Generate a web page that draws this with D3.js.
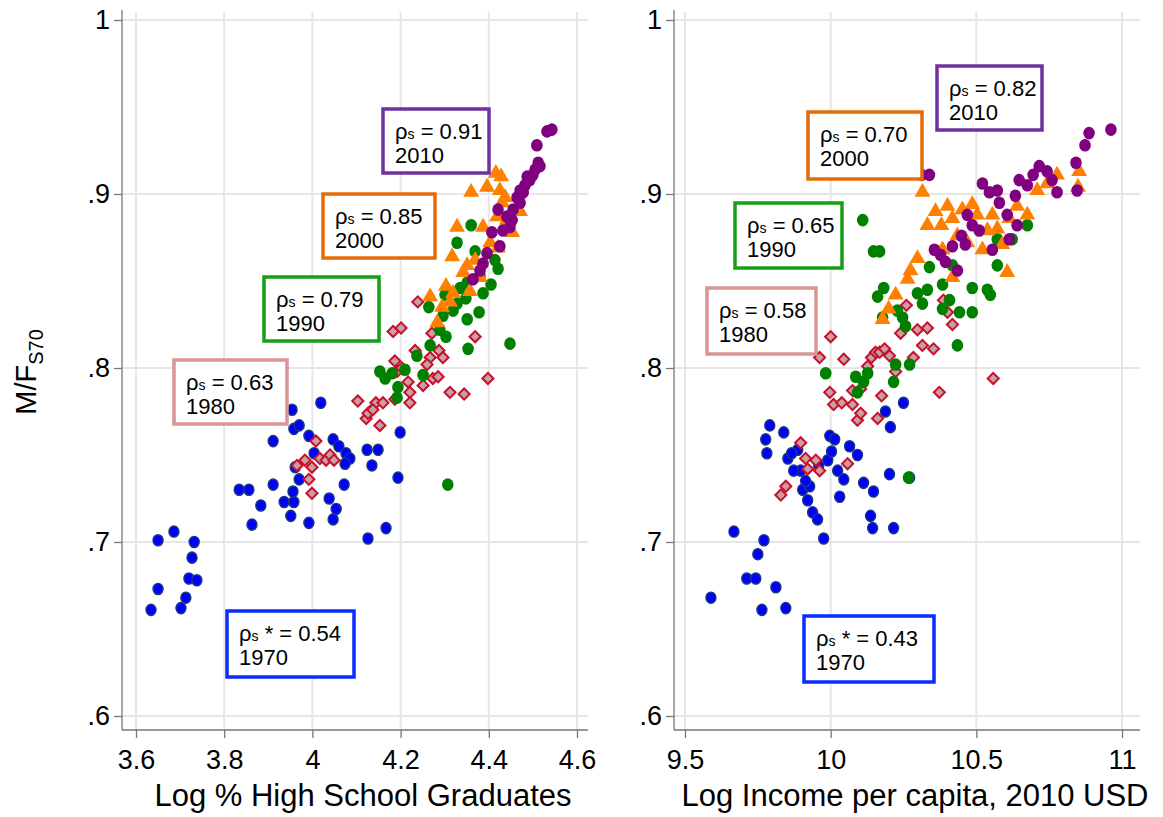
<!DOCTYPE html>
<html>
<head>
<meta charset="utf-8">
<script src="https://d3js.org/d3.v7.min.js"></script>
<style>
  body { margin: 0; background: #fff; }
  text { font-family: "Liberation Sans", Arial, sans-serif; }
  .grid line { stroke: #e6e6e6; stroke-width: 2; }
  .axis path, .axis line { stroke: #777; stroke-width: 1.3; }
  .axis text { fill: #000; font-size: 27px; }
</style>
</head>
<body>
<script>
// y ticks shared by both panels
var yTicks = [0.6, 0.7, 0.8, 0.9, 1];
var yTickLabels = ['.6', '.7', '.8', '.9', '1'];

// left panel: log % high school graduates
var eduTicks = [3.6, 3.8, 4, 4.2, 4.4, 4.6];
var edu1970 = [[3.634,.661],[3.650,.673],[3.702,.662],[3.713,.668],[3.720,.679],[3.738,.678],[3.727,.691],[3.732,.700],[3.686,.706],[3.650,.701],
  [3.834,.730],[3.856,.730],[3.863,.710],[3.883,.721],[3.911,.758],[3.911,.733],[3.936,.723],[3.951,.715],[3.958,.723],[3.956,.729],[3.970,.736],
  [3.961,.743],[3.958,.765],[3.970,.767],[3.954,.776],[3.992,.761],[4.004,.751],[3.992,.711],[4.019,.780],[4.047,.759],[4.060,.755],[4.076,.751],
  [4.085,.748],[4.072,.733],[4.038,.725],[4.054,.719],[4.047,.713],[4.124,.753],[4.126,.702],[4.117,.828],[4.135,.744],[4.149,.753],[4.167,.708],
  [4.194,.737],[4.199,.763],[4.074,.745]];
var edu1980 = [[3.965,.744],[3.992,.736],[3.999,.728],[4.008,.758],[4.017,.748],[4.031,.747],[4.040,.750],[4.049,.747],[3.983,.747],[3.999,.743],
  [4.103,.781],[4.122,.771],[4.131,.775],[4.144,.780],[4.160,.780],[4.126,.774],[4.137,.776],[4.187,.782],[4.153,.767],[4.221,.786],[4.221,.780],
  [4.192,.798],[4.203,.800],[4.217,.792],[4.251,.790],[4.273,.794],[4.285,.795],[4.312,.786],[4.344,.785],[4.398,.794],[4.233,.810],[4.287,.810],
  [4.187,.804],[4.267,.806],[4.296,.806],[4.183,.821],[4.201,.823],[4.271,.820],[4.369,.818],[4.239,.838],[4.260,.802]];
var edu1990 = [[4.360,.882],[4.328,.872],[4.369,.867],[4.414,.862],[4.421,.857],[4.335,.846],[4.351,.849],[4.387,.843],[4.405,.848],[4.301,.842],
  [4.328,.837],[4.264,.835],[4.378,.832],[4.351,.828],[4.296,.830],[4.289,.822],[4.303,.818],[4.267,.813],[4.237,.807],[4.353,.811],[4.448,.814],
  [4.251,.796],[4.210,.799],[4.153,.798],[4.181,.797],[4.194,.789],[4.192,.783],[4.165,.794],[4.307,.733],[4.380,.853],[4.348,.840],[4.319,.833]];
var edu2000 = [[4.416,.912],[4.428,.910],[4.396,.904],[4.360,.901],[4.425,.902],[4.430,.895],[4.328,.881],[4.387,.881],[4.419,.887],[4.453,.878],
  [4.317,.864],[4.351,.859],[4.369,.862],[4.380,.852],[4.342,.855],[4.303,.847],[4.319,.843],[4.357,.844],[4.294,.835],[4.312,.838],[4.283,.826],
  [4.403,.872],[4.441,.885],[4.471,.890],[4.421,.869],[4.267,.841],[4.437,.898]];
var edu2010 = [[4.532,.936],[4.543,.937],[4.509,.928],[4.512,.918],[4.516,.916],[4.500,.911],[4.493,.908],[4.487,.910],[4.482,.905],[4.471,.902],
  [4.478,.901],[4.464,.898],[4.471,.895],[4.455,.891],[4.421,.891],[4.441,.887],[4.453,.885],[4.448,.881],[4.432,.879],[4.407,.878],[4.425,.870],
  [4.396,.866],[4.387,.860],[4.380,.856],[4.364,.851],[4.505,.914]];

// right panel: log income per capita
var incTicks = [9.5, 10, 10.5, 11];
var inc1970 = [[9.589,.668],[9.668,.706],[9.712,.679],[9.743,.679],[9.750,.693],[9.771,.701],[9.764,.661],[9.812,.674],[9.846,.662],[9.791,.767],
  [9.777,.759],[9.781,.751],[9.839,.763],[9.853,.748],[9.887,.753],[9.897,.741],[9.904,.730],[9.921,.724],[9.938,.717],[9.955,.713],[9.976,.702],
  [9.990,.747],[9.997,.761],[10.014,.759],[9.959,.744],[9.928,.732],[10.024,.741],[10.031,.726],[10.045,.736],[10.065,.755],[10.113,.734],
  [10.137,.715],[10.144,.708],[10.147,.729],[10.188,.775],[10.205,.766],[10.202,.739],[10.216,.708],[10.250,.780],[10.271,.737],[9.873,.741],
  [9.914,.735],[9.866,.751],[10.003,.752],[10.092,.750]];
var inc1980 = [[9.829,.727],[9.846,.732],[9.897,.757],[9.914,.748],[9.921,.742],[9.949,.747],[9.962,.741],[9.997,.786],[10.000,.818],[10.010,.779],
  [10.038,.780],[10.045,.805],[10.058,.745],[10.075,.787],[10.092,.770],[10.103,.774],[10.103,.788],[10.127,.801],[10.140,.806],[10.154,.809],
  [10.168,.809],[10.175,.784],[10.185,.811],[10.202,.807],[10.223,.798],[10.240,.820],[10.260,.836],[10.284,.806],[10.298,.822],[10.315,.813],
  [10.332,.823],[10.353,.811],[10.373,.786],[10.387,.839],[10.401,.832],[10.418,.825],[10.558,.794],[9.962,.806],[10.075,.779],[10.161,.771]];
var inc1990 = [[9.983,.797],[10.086,.795],[10.113,.792],[10.127,.797],[10.110,.885],[10.147,.867],[10.168,.867],[10.182,.846],[10.178,.829],
  [10.229,.833],[10.247,.829],[10.257,.824],[10.216,.792],[10.223,.802],[10.271,.802],[10.267,.737],[10.298,.843],[10.315,.837],[10.332,.845],
  [10.384,.848],[10.384,.834],[10.408,.839],[10.418,.859],[10.435,.813],[10.442,.832],[10.486,.832],[10.538,.845],[10.548,.842],[10.486,.846],
  [10.572,.859],[10.623,.874],[10.675,.882],[10.572,.874],[10.092,.786],[10.161,.841],[10.339,.858]];
var inc2000 = [[10.178,.828],[10.199,.834],[10.223,.842],[10.264,.851],[10.274,.856],[10.298,.863],[10.315,.901],[10.332,.882],[10.360,.890],
  [10.380,.882],[10.401,.893],[10.418,.886],[10.435,.876],[10.452,.891],[10.469,.872],[10.486,.894],[10.503,.888],[10.521,.868],[10.538,.879],
  [10.555,.888],[10.572,.880],[10.589,.871],[10.613,.886],[10.640,.893],[10.675,.888],[10.709,.902],[10.743,.906],[10.777,.911],[10.853,.913],
  [10.849,.904],[10.418,.852],[10.606,.855],[10.384,.868]];
var inc2010 = [[10.312,.911],[10.339,.911],[10.356,.868],[10.377,.865],[10.394,.861],[10.418,.870],[10.435,.856],[10.449,.876],[10.469,.888],
  [10.486,.882],[10.510,.879],[10.521,.906],[10.545,.901],[10.572,.902],[10.579,.895],[10.606,.888],[10.634,.899],[10.647,.908],[10.675,.905],
  [10.695,.911],[10.716,.916],[10.743,.913],[10.760,.908],[10.777,.901],[10.842,.918],[10.846,.902],[10.873,.928],[10.887,.935],[10.962,.937],
  [10.613,.874],[10.555,.868],[10.462,.871],[10.640,.882]];

// correlation labels
var eduRho = ['0.54', '0.63', '0.79', '0.85', '0.91'];
var incRho = ['0.43', '0.58', '0.65', '0.70', '0.82'];
var years = ['1970', '1980', '1990', '2000', '2010'];

var W = 1163, H = 817;
var svg = d3.select('body').append('svg').attr('width', W).attr('height', H);

var yScale = d3.scaleLinear().domain([0.6, 1]).range([716, 20]);

var boxColor = ['#0a2cff', '#d99594', '#16a016', '#e36c09', '#7030a0'];

function drawPanel(cfg) {
  var x = d3.scaleLinear().domain(cfg.domain).range(cfg.range);
  var g = svg.append('g');

  // grid
  var grid = g.append('g').attr('class', 'grid');
  grid.selectAll('.gx').data(cfg.ticks).enter().append('line')
    .attr('x1', function(d) { return x(d); }).attr('x2', function(d) { return x(d); })
    .attr('y1', 12).attr('y2', 730);
  grid.selectAll('.gy').data(yTicks).enter().append('line')
    .attr('x1', cfg.axisX).attr('x2', cfg.right)
    .attr('y1', function(d) { return yScale(d); }).attr('y2', function(d) { return yScale(d); });

  // axes
  g.append('line').attr('x1', cfg.axisX).attr('x2', cfg.axisX).attr('y1', 10).attr('y2', 730)
    .attr('stroke', '#777').attr('stroke-width', 1.3);
  g.append('line').attr('x1', cfg.axisX).attr('x2', cfg.right).attr('y1', 730).attr('y2', 730)
    .attr('stroke', '#777').attr('stroke-width', 1.3);

  var xAxis = d3.axisBottom(x).tickValues(cfg.ticks).tickSize(8).tickFormat(d3.format('~g'));
  var xg = g.append('g').attr('class', 'axis').attr('transform', 'translate(0,730)').call(xAxis);
  xg.select('.domain').remove();
  xg.selectAll('text').attr('dy', '1.05em');

  var yAxis = d3.axisLeft(yScale).tickValues(yTicks).tickSize(8)
    .tickFormat(function(d, i) { return yTickLabels[i]; });
  var yg = g.append('g').attr('class', 'axis').attr('transform', 'translate(' + cfg.axisX + ',0)').call(yAxis);
  yg.select('.domain').remove();
  yg.selectAll('text').attr('x', -12);

  // x title
  g.append('text').attr('x', (cfg.axisX + cfg.right) / 2 + 8).attr('y', 806)
    .attr('text-anchor', 'middle').attr('font-size', 31).text(cfg.title);

  // points: 1970 first, 2010 on top
  var sets = cfg.data;
  g.append('g').selectAll('circle').data(sets[0]).enter().append('ellipse')
    .attr('cx', function(d) { return x(d[0]); }).attr('cy', function(d) { return yScale(d[1]); })
    .attr('rx', 5).attr('ry', 5.6).attr('fill', '#0000ff').attr('stroke', '#1b3a7a').attr('stroke-width', 1.4);
  g.append('g').selectAll('path').data(sets[1]).enter().append('path')
    .attr('d', d3.symbol().type(d3.symbolSquare).size(62))
    .attr('transform', function(d) { return 'translate(' + x(d[0]) + ',' + yScale(d[1]) + ') rotate(45)'; })
    .attr('fill', '#c8a0a0').attr('stroke', '#c8102e').attr('stroke-width', 2);
  g.append('g').selectAll('circle').data(sets[2]).enter().append('ellipse')
    .attr('cx', function(d) { return x(d[0]); }).attr('cy', function(d) { return yScale(d[1]); })
    .attr('rx', 5.8).attr('ry', 6.3).attr('fill', '#008000');
  g.append('g').selectAll('path').data(sets[3]).enter().append('path')
    .attr('d', d3.symbol().type(d3.symbolTriangle).size(110))
    .attr('transform', function(d) { return 'translate(' + x(d[0]) + ',' + yScale(d[1]) + ')'; })
    .attr('fill', '#ff8000');
  g.append('g').selectAll('circle').data(sets[4]).enter().append('ellipse')
    .attr('cx', function(d) { return x(d[0]); }).attr('cy', function(d) { return yScale(d[1]); })
    .attr('rx', 5.8).attr('ry', 6.3).attr('fill', '#800080');

  // annotation boxes
  cfg.boxes.forEach(function(b, i) {
    var bg = g.append('g').attr('transform', 'translate(' + b[0] + ',' + b[1] + ')');
    bg.append('rect').attr('width', b[2]).attr('height', b[3]).attr('fill', '#fff')
      .attr('stroke', boxColor[i]).attr('stroke-width', 3.5);
    var t = bg.append('text').attr('x', b[4]).attr('y', 30).attr('font-size', 22);
    t.append('tspan').text('ρ');
    t.append('tspan').attr('font-size', 14).text('s');
    t.append('tspan').text((i === 0 ? ' * = ' : ' = ') + cfg.rho[i]);
    bg.append('text').attr('x', b[4]).attr('y', 54).attr('font-size', 22).text(years[i]);
  });
}

drawPanel({
  domain: [3.6, 4.6], range: [136, 577], axisX: 122, right: 588,
  ticks: eduTicks, title: 'Log % High School Graduates',
  data: [edu1970, edu1980, edu1990, edu2000, edu2010], rho: eduRho,
  boxes: [[227, 611, 127, 66, 12], [174, 360, 113, 64, 12], [264, 277, 115, 64, 12],
          [323, 194, 112, 64, 12], [383, 109, 106, 64, 12]]
});
drawPanel({
  domain: [9.5, 11], range: [685, 1122], axisX: 674, right: 1140,
  ticks: incTicks, title: 'Log Income per capita, 2010 USD',
  data: [inc1970, inc1980, inc1990, inc2000, inc2010], rho: incRho,
  boxes: [[804, 616, 130, 66, 12], [707, 288, 109, 66, 12], [735, 203, 107, 65, 12],
          [808, 112, 114, 67, 12], [937, 66, 105, 64, 12]]
});

// y axis title
var yt = svg.append('text').attr('transform', 'translate(36,372) rotate(-90)')
  .attr('text-anchor', 'middle').attr('font-size', 29);
yt.append('tspan').text('M/F');
yt.append('tspan').attr('font-size', 20).attr('dy', 7).text('S70');
</script>
</body>
</html>
